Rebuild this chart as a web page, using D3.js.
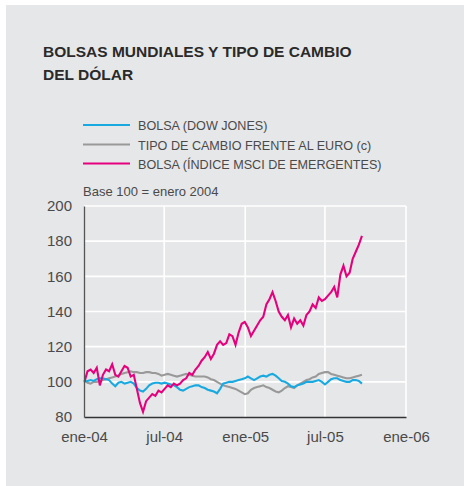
<!DOCTYPE html>
<html>
<head>
<meta charset="utf-8">
<script src="https://cdn.jsdelivr.net/npm/d3@7"></script>
<style>
  body { margin: 0; background: #fff; }
  svg text { font-family: "Liberation Sans", Arial, sans-serif; }
</style>
</head>
<body>
<div class="canvas"></div>
<script>
// weekly closes, first week of 2004 = 100
const startDate = "2004-01-02"

const dowJones = [100, 100.5, 101, 100.5, 101.5, 102, 102, 101.5, 101, 99, 97.5, 99.5, 100, 99, 99.5, 100, 99, 96.5, 95, 94.5,
  96, 98, 99, 99.5, 99.5, 99, 99.5, 99, 98.5, 98, 97, 95.5, 95, 96, 97, 97.5, 98, 98, 97, 96.5,
  95.5, 95, 94.5, 93.5, 96, 99, 99.5, 100, 100, 100.5, 101, 101.5, 102, 103, 102, 101, 102, 103, 103.5, 103,
  104, 104.5, 103.5, 102, 100.5, 100, 99, 97.5, 97, 98, 98.5, 99, 100, 100, 100, 100.5, 101, 100, 98.5, 100,
  101.5, 102, 102, 101, 100.5, 100, 100, 101, 101, 100.5, 99]

const euroRate = [101, 99.5, 99, 100, 100, 100.5, 101, 101.5, 102, 102.5, 103, 103.5, 104.5, 105, 105.5, 106, 105.5, 105.5, 105, 105,
  105.5, 105.5, 105, 105, 104.5, 103.5, 104, 104.5, 104, 103.5, 103, 103.5, 104, 104.5, 104, 103.5, 103, 103, 103, 103,
  102.5, 101.5, 101, 100, 99, 98, 97.5, 97, 96.5, 96, 95, 94, 93, 93.5, 95.5, 96.5, 97, 97.5, 98, 97,
  96.5, 95.5, 94.5, 94, 95, 96.5, 97.5, 97, 96.5, 98, 99, 100, 101, 101.5, 102.5, 103, 104.5, 105, 105.5, 105.5,
  104.5, 104, 103.5, 103, 102.5, 102, 102, 102.5, 103, 103.5, 104]

const msciEmerging = [100, 106, 107, 105, 108, 98, 104, 107, 106, 110, 104, 103, 106, 109, 108, 103, 104, 96, 88, 83,
  89, 91, 93, 92, 95, 94, 96, 98, 97, 99, 98, 99, 101, 102, 105, 104, 107, 109, 112, 114,
  117, 113, 116, 121, 123, 121, 122, 127, 126, 121, 128, 133, 134, 131, 126, 129, 132, 135, 137, 144,
  147, 151, 146, 140, 137, 135, 138, 131, 136, 133, 135, 132, 138, 140, 144, 142, 148, 146, 147, 149,
  151, 154, 148, 161, 166, 160, 162, 170, 174, 178, 183]

const seriesNames = ["BOLSA (DOW JONES)", "TIPO DE CAMBIO FRENTE AL EURO (c)", "BOLSA (ÍNDICE MSCI DE EMERGENTES)"]
const seriesColors = ["#19a9e1", "#999999", "#e6007e"]
const yTicks = [80, 100, 120, 140, 160, 180, 200]
const xTicks = ["2004-01-01", "2004-07-01", "2005-01-01", "2005-07-01", "2006-01-01"]
const xTickLabels = ["ene-04", "jul-04", "ene-05", "jul-05", "ene-06"]

const drawChart = (width, height) => {

  const margin = {top: 206, right: 58, bottom: 69, left: 84}
  const graphWidth = width - margin.left - margin.right
  const graphHeight = height - margin.top - margin.bottom
  const parse = d3.timeParse("%Y-%m-%d")

  const svg = d3.select(".canvas").append("svg").attr("width", width).attr("height", height)

  svg.append("rect").attr("x", 6).attr("y", 5).attr("width", width - 6).attr("height", height - 5)
    .attr("fill", "#e6e7e8")

  // title
  const title = svg.append("text").attr("x", 43).attr("y", 57)
    .attr("font-size", 15.5).attr("font-weight", "bold").attr("fill", "#2a2a2a")
  title.append("tspan").text("BOLSAS MUNDIALES Y TIPO DE CAMBIO")
  title.append("tspan").attr("x", 43).attr("dy", 23).text("DEL DÓLAR")

  // legend
  const legend = svg.append("g")
  const legendY = [125, 144.5, 163.5]
  seriesNames.forEach((name, i) => {
    legend.append("line").attr("x1", 83).attr("x2", 130).attr("y1", legendY[i]).attr("y2", legendY[i])
      .attr("stroke", seriesColors[i]).attr("stroke-width", 2)
    legend.append("text").attr("x", 138).attr("y", legendY[i] + 5)
      .attr("font-size", 12.6).attr("fill", "#4a4a4a").text(name)
  })

  svg.append("text").attr("x", 83).attr("y", 196).attr("font-size", 13).attr("fill", "#4a4a4a")
    .text("Base 100 = enero 2004")

  const graph = svg.append("g").attr("transform", `translate(${margin.left}, ${margin.top})`)

  //scales
  const x = d3.scaleTime()
    .domain([parse(xTicks[0]), parse(xTicks[xTicks.length - 1])])
    .range([0, graphWidth])
  const y = d3.scaleLinear().domain([80, 200]).range([graphHeight, 0])

  // grid
  graph.append("g").selectAll("line").data(yTicks.slice(1)).enter().append("line")
    .attr("x1", 0).attr("x2", graphWidth)
    .attr("y1", d => y(d)).attr("y2", d => y(d))
    .attr("stroke", "#fff").attr("stroke-width", 1.6)
  graph.append("g").selectAll("line").data(xTicks.slice(1)).enter().append("line")
    .attr("x1", d => x(parse(d))).attr("x2", d => x(parse(d)))
    .attr("y1", 0).attr("y2", graphHeight)
    .attr("stroke", "#fff").attr("stroke-width", 1.6)

  // lines
  const start = parse(startDate)
  const toPoints = arr => arr.map((v, i) => ({date: d3.timeDay.offset(start, i * 7), value: v}))
  const line = d3.line().x(d => x(d.date)).y(d => y(d.value))

  const allSeries = [dowJones, euroRate, msciEmerging]
  const order = [1, 0, 2]
  order.forEach(i => {
    graph.append("path").datum(toPoints(allSeries[i]))
      .attr("fill", "none").attr("stroke", seriesColors[i])
      .attr("stroke-width", 2.1).attr("stroke-linejoin", "miter")
      .attr("d", line)
  })

  // axes
  const xAxis = d3.axisBottom(x).tickValues(xTicks.map(parse)).tickSize(0).tickPadding(14)
    .tickFormat((d, i) => xTickLabels[i])
  const yAxis = d3.axisLeft(y).tickValues(yTicks).tickSize(0).tickPadding(12)

  const xAxisGroup = graph.append("g").attr("transform", `translate(0, ${graphHeight})`).call(xAxis)
  const yAxisGroup = graph.append("g").call(yAxis)

  xAxisGroup.select(".domain").attr("stroke", "#333").attr("stroke-width", 1.3)
  yAxisGroup.select(".domain").attr("stroke", "#555").attr("stroke-width", 1.3)
  graph.selectAll(".tick text").attr("font-size", 15).attr("fill", "#4a4a4a")
    .attr("font-family", "Liberation Sans, Arial, sans-serif")
}

drawChart(464, 486)
</script>
</body>
</html>
